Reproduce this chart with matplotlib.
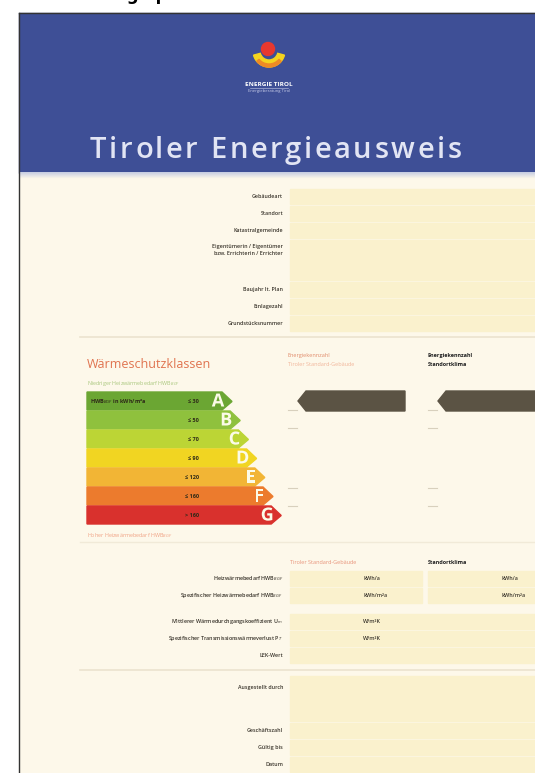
import numpy as np
import matplotlib.pyplot as plt
from matplotlib.patches import Polygon, Rectangle, Circle, Wedge
from matplotlib.font_manager import FontProperties
from matplotlib.colors import LinearSegmentedColormap
import matplotlib.patheffects as pe

plt.rcParams['font.family'] = ['Open Sans', 'DejaVu Sans']

# ── Data ──────────────────────────────────────────────────
classes = ["A", "B", "C", "D", "E", "F", "G"]
class_limits = ["≤ 30", "≤ 50", "≤ 70", "≤ 90", "≤ 120", "≤ 160", "> 160"]
class_colors = ["#6ba633", "#8fc13d", "#bcd535", "#f1d522", "#f2b535", "#ec7b2d", "#d9312d"]
class_rated = ["A", "A"]          # Tiroler Standard-Gebäude, Standortklima
rating_headers = [("Energiekennzahl", "Tiroler Standard-Gebäude"),
                  ("Energiekennzahl", "Standortklima")]

top_labels = ["Gebäudeart", "Standort", "Katastralgemeinde",
              "Eigentümerin / Eigentümer\nbzw. Errichterin / Errichter",
              "Baujahr lt. Plan", "Einlagezahl", "Grundstücksnummer"]
top_heights = [17, 17, 17, 42, 17, 17, 17]

result_labels = [r"Heizwärmebedarf HWB$_{BGF}$",
                 r"Spezifischer Heizwärmebedarf HWB$_{BGF}$",
                 r"Mittlerer Wärmedurchgangskoeffizient U$_{m}$",
                 r"Spezifischer Transmissionswärmeverlust P$_{T}$",
                 "LEK-Wert"]
result_units_std = ["kWh/a", "kWh/m²a", "W/m²K", "W/m²K", ""]
result_units_site = ["kWh/a", "kWh/m²a", "", "", ""]

footer_labels = ["Ausgestellt durch", "Geschäftszahl", "Gültig bis", "Datum"]
footer_heights = [47, 17, 17, 17]

TITLE = "Tiroler Energieausweis"

# ── Canvas in pixel coordinates ───────────────────────────
W, H = 535, 773
fig = plt.figure(figsize=(W / 100, H / 100), dpi=100)
ax = fig.add_axes([0, 0, 1, 1])
ax.set_xlim(0, W)
ax.set_ylim(H, 0)
ax.axis("off")

BLUE = "#3e4f96"
CREAM = "#fdf8ea"
FIELD = "#faf1cd"
LABEL = "#3a352c"

# caption above the poster (only its descenders are inside the picture)
ax.text(84, 0, "Energiepass", fontsize=12, fontweight="bold", color="black",
        ha="left", va="baseline", family=["DejaVu Sans"])

# poster body
ax.add_patch(Rectangle((19, 13), W, H, color=CREAM, zorder=1))
ax.add_patch(Rectangle((19, 13), W, 160, color=BLUE, zorder=2))
grad = np.linspace(0, 1, 8).reshape(-1, 1)
ax.imshow(grad, extent=(19, W, 179, 172),
          cmap=LinearSegmentedColormap.from_list("g", ["#c9cfe2", CREAM]),
          aspect="auto", zorder=2)
ax.plot([19, 19], [13, H], color="#333333", lw=1, zorder=3)
ax.plot([19, W], [13, 13], color="#333333", lw=1, zorder=3)

# logo
ax.add_patch(Wedge((269, 51), 16, 15, 165, width=7, color="#f4d41e", zorder=3))
ax.add_patch(Wedge((269, 51), 16, 40, 140, width=3, color="#ee8a24", zorder=3))
ax.add_patch(Circle((268, 49), 6.5, color="#e8382e", zorder=4))
ax.text(269, 84, "ENERGIE TIROL", fontsize=4.6, color="white", fontweight="bold",
        ha="center", va="center", zorder=4)
ax.plot([250, 288], [87.5, 87.5], color="#c8cce8", lw=0.4, zorder=4)
ax.text(269, 91, "Energieberatung Tirol", fontsize=3, color="#c8cce8",
        ha="center", va="center", zorder=4)

# title with extra letter spacing
tprop = FontProperties(family=["Open Sans", "DejaVu Sans"], size=21, weight="semibold")
renderer = fig.canvas.get_renderer()
track = 2.6
for i, ch in enumerate(TITLE):
    if ch == " ":
        continue
    pre_w = renderer.get_text_width_height_descent(TITLE[:i], tprop, ismath=False)[0] if i else 0
    ax.text(90 + pre_w + i * track, 158, ch, fontproperties=tprop, color="#e2e5f4",
            ha="left", va="baseline", zorder=4)

LX = 283   # right edge of labels
FX = 290   # start of fields


def label(y, s):
    ax.text(LX, y, s, fontsize=3.9, color=LABEL, ha="right", va="center",
            fontweight="semibold", zorder=5, linespacing=1.5)


# ── Upper form ────────────────────────────────────────────
y = 188
for lab, h in zip(top_labels, top_heights):
    ax.add_patch(Rectangle((FX, y + 1), W - FX, h - 2, color=FIELD, zorder=3))
    if "\n" in lab:
        label(y + 11, lab)
    else:
        label(y + h / 2, lab)
    y += h
ax.plot([80, W], [337, 337], color="#ebe3cf", lw=1.2, zorder=3)

# ── Energy classes ────────────────────────────────────────
x0, top, bh, tip = 87, 392, 19, 10
ax.text(x0, 365, "Wärmeschutzklassen", fontsize=9, color="#e0734f",
        ha="left", va="center", zorder=5)
ax.text(x0, 383, r"Niedriger Heizwärmebedarf HWB$_{BGF}$", fontsize=3.9,
        color="#a9c77d", ha="left", va="center", zorder=5)
ax.text(x0, 536, r"Hoher Heizwärmebedarf HWB$_{BGF}$", fontsize=3.9,
        color="#f0a284", ha="left", va="center", zorder=5)

for i, (cls, lim, col) in enumerate(zip(classes, class_limits, class_colors)):
    yt = top + i * bh
    xe = 222 + i * 8.2
    pts = [(x0, yt), (xe, yt), (xe + tip, yt + bh / 2), (xe, yt + bh - 1), (x0, yt + bh - 1)]
    ax.add_patch(Polygon(pts, closed=True, color=col, zorder=4))
    ax.text(xe - 4, yt + bh / 2, cls, fontsize=13, fontweight="bold", color="#fbfbe8",
            ha="center", va="center", zorder=6,
            path_effects=[pe.withStroke(linewidth=1.2, foreground=col)])
    ax.text(199, yt + bh / 2, lim, fontsize=4, color="#2e2a18", ha="right",
            va="center", fontweight="bold", zorder=6)
ax.text(x0 + 3, top + bh / 2, r"HWB$_{BGF}$ in kWh/m²a", fontsize=4,
        color="#2e2a18", ha="left", va="center", fontweight="bold", zorder=6)

# rating columns
col_x = [288, 428]
for j, (cx, (h1, h2), rated) in enumerate(zip(col_x, rating_headers, class_rated)):
    c1 = "#e08a6a" if j == 0 else "#222222"
    c2 = "#f1b59a" if j == 0 else "#222222"
    fw = "normal" if j == 0 else "bold"
    ax.text(cx, 355, h1, fontsize=4, color=c1, fontweight=fw, ha="left", va="center", zorder=5)
    ax.text(cx, 364, h2, fontsize=4, color=c2, fontweight=fw, ha="left", va="center", zorder=5)
    k = classes.index(rated)
    yt = top + k * bh - 1
    xt = cx + 10
    xe = 405 if j == 0 else W + 5
    pts = [(xt, yt + 10), (xt + 8, yt), (xe, yt), (xe, yt + 20), (xt + 8, yt + 20)]
    ax.add_patch(Polygon(pts, closed=True, color="#5b5344", zorder=5))
    for yy in [410, 428, 488, 506]:
        ax.plot([cx, cx + 9], [yy, yy], color="#d8d0bd", lw=0.8, zorder=4)
ax.plot([80, W], [542, 542], color="#f1ead8", lw=1.0, zorder=3)

# ── Results ───────────────────────────────────────────────
ax.text(FX, 562, "Tiroler Standard-Gebäude", fontsize=4, color="#e8937a",
        ha="left", va="center", zorder=5)
ax.text(428, 562, "Standortklima", fontsize=4, color="#222222", fontweight="bold",
        ha="left", va="center", zorder=5)
y = 570
for i, (lab, u1, u2) in enumerate(zip(result_labels, result_units_std, result_units_site)):
    if i == 2:
        y += 9
    if i < 2:
        ax.add_patch(Rectangle((FX, y + 1), 132, 15, color=FIELD, zorder=3))
        ax.add_patch(Rectangle((FX + 138, y + 1), W - FX - 138, 15, color=FIELD, zorder=3))
    else:
        ax.add_patch(Rectangle((FX, y + 1), W - FX, 15, color=FIELD, zorder=3))
    label(y + 8.5, lab)
    ax.text(363, y + 8.5, u1, fontsize=3.9, color=LABEL, ha="left", va="center",
            fontweight="semibold", zorder=5)
    ax.text(502, y + 8.5, u2, fontsize=3.9, color=LABEL, ha="left", va="center",
            fontweight="semibold", zorder=5)
    y += 17
ax.plot([80, W], [670, 670], color="#ebe3cf", lw=1.2, zorder=3)

# ── Footer ────────────────────────────────────────────────
y = 675
for lab, h in zip(footer_labels, footer_heights):
    ax.add_patch(Rectangle((FX, y + 1), W - FX, h - 2, color=FIELD, zorder=3))
    label(y + (13 if h > 20 else h / 2), lab)
    y += h

fig.savefig("out.png", dpi=100)
